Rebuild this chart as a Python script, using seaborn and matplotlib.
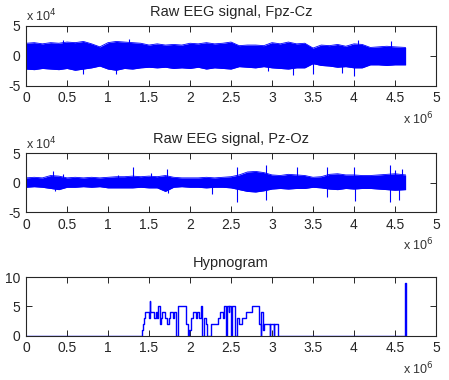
# Raw EEG channels (envelopes) and hypnogram
import matplotlib
matplotlib.use("Agg")
import matplotlib.pyplot as plt
from matplotlib.ticker import FuncFormatter
import numpy as np
import pandas as pd
import seaborn as sns

# sample index in units of 1e6, envelope every 0.1e6 samples
env_x = [0.0, 0.1, 0.2, 0.3, 0.4, 0.5, 0.6, 0.7, 0.8, 0.9,
         1.0, 1.1, 1.2, 1.3, 1.4, 1.5, 1.6, 1.7, 1.8, 1.9,
         2.0, 2.1, 2.2, 2.3, 2.4, 2.5, 2.6, 2.7, 2.8, 2.9,
         3.0, 3.1, 3.2, 3.3, 3.4, 3.5, 3.6, 3.7, 3.8, 3.9,
         4.0, 4.1, 4.2, 4.3, 4.4, 4.5, 4.63]

# Fpz-Cz, units of 1e4
fpz_upper = [2.1, 2.2, 2.0, 2.2, 2.1, 2.3, 2.2, 2.4, 2.0, 1.5,
             2.2, 2.4, 2.3, 2.2, 2.1, 1.8, 2.0, 1.8, 1.9, 1.8,
             2.1, 2.0, 2.2, 2.0, 2.1, 2.3, 1.7, 1.8, 1.8, 1.7,
             2.2, 2.0, 2.3, 2.0, 2.1, 1.3, 1.8, 1.7, 1.9, 1.6,
             2.0, 1.9, 1.4, 1.5, 1.6, 1.5, 1.4]
fpz_lower = [-2.2, -2.3, -2.1, -2.2, -2.3, -2.1, -2.4, -2.2, -2.0, -1.7,
             -2.2, -2.4, -2.1, -2.2, -2.0, -1.9, -2.0, -1.9, -2.1, -2.0,
             -2.1, -1.9, -2.2, -2.0, -2.1, -2.2, -1.8, -1.9, -2.0, -1.8,
             -2.0, -2.1, -2.2, -2.0, -2.0, -1.3, -1.6, -1.7, -1.9, -1.8,
             -2.0, -2.0, -1.5, -1.5, -1.6, -1.5, -1.5]
fpz_spike_x = [0.45, 0.7, 1.1, 1.25, 2.95, 3.25, 3.5, 3.85, 4.0, 4.05, 4.45]
fpz_spike_y = [2.7, -3.1, -3.0, 2.8, -2.6, -3.2, -3.0, -2.8, -3.3, 2.6, 2.4]

# Pz-Oz, units of 1e4
pz_upper = [0.8, 0.9, 0.8, 1.2, 1.1, 0.8, 0.9, 0.8, 0.9, 0.8,
            0.9, 1.0, 1.0, 1.1, 1.0, 1.1, 1.0, 1.2, 0.9, 0.8,
            0.8, 0.8, 0.9, 0.8, 0.9, 1.0, 1.3, 1.8, 1.9, 1.7,
            1.3, 1.2, 1.4, 1.3, 1.2, 0.9, 1.0, 1.4, 1.5, 1.3,
            1.3, 1.2, 1.2, 1.3, 1.4, 1.5, 1.3]
pz_lower = [-0.8, -0.7, -0.8, -1.0, -1.2, -0.8, -0.8, -0.7, -0.8, -0.7,
            -0.9, -0.9, -0.9, -0.9, -0.8, -0.9, -0.9, -1.5, -0.8, -0.7,
            -0.8, -0.8, -0.9, -0.8, -0.8, -0.9, -1.2, -1.5, -1.6, -1.4,
            -1.1, -1.0, -1.1, -1.0, -1.0, -0.8, -0.9, -1.1, -1.2, -1.0,
            -1.1, -1.0, -1.0, -1.1, -1.2, -1.3, -1.2]
pz_spike_x = [0.33, 0.35, 0.45, 1.12, 1.3, 1.52, 1.72, 1.73, 2.27, 2.57, 2.57,
              2.93, 2.93, 3.3, 3.67, 3.67, 4.0, 4.01, 4.44, 4.44, 4.5, 4.55, 4.58]
pz_spike_y = [2.0, -1.4, 1.5, 1.3, 2.6, 1.6, 2.3, -1.7, -1.9, 2.7, -3.3,
              3.0, -3.0, 2.6, 2.6, -2.4, 2.7, -3.2, 3.0, -3.3, 2.2, -3.0, 2.3]

# hypnogram steps (time in 1e6 samples, stage)
hyp_t = [0, 1.42, 1.43, 1.44, 1.45, 1.50, 1.51, 1.515, 1.56, 1.58, 1.60, 1.61,
         1.63, 1.64, 1.66, 1.70, 1.72, 1.74, 1.76, 1.79, 1.81, 1.83, 1.85, 1.95,
         1.97, 1.99, 2.01, 2.04, 2.07, 2.09, 2.11, 2.13, 2.15, 2.17, 2.19, 2.21,
         2.25, 2.34, 2.37, 2.40, 2.42, 2.44, 2.45, 2.47, 2.48, 2.50, 2.51, 2.55,
         2.57, 2.60, 2.64, 2.68, 2.76, 2.84, 2.86, 2.87, 2.89, 2.90, 2.97, 2.98,
         3.02, 3.03, 3.07, 4.625, 4.632, 4.64]
hyp_v = [0, 1, 2, 3, 4, 3, 6, 4, 3, 4, 3, 5,
         2, 3, 4, 3, 2, 3, 4, 3, 4, 0, 5, 2,
         0, 1, 3, 4, 3, 4, 3, 5, 0, 3, 2, 0,
         2, 3, 4, 3, 5, 0, 5, 4, 5, 0, 5, 0,
         3, 2, 3, 4, 5, 2, 0, 4, 1, 2, 0, 2,
         0, 2, 0, 9, 0, 0]

sns.set_style("ticks")
plt.rcParams["font.family"] = ["Liberation Sans", "DejaVu Sans"]
plt.rcParams["font.size"] = 10
BLUE = (0, 0, 1)

fig = plt.figure(figsize=(4.49, 3.8), dpi=100)
ax1 = fig.add_axes([0.058, 0.774, 0.913, 0.158])
ax2 = fig.add_axes([0.058, 0.442, 0.913, 0.155])
ax3 = fig.add_axes([0.058, 0.116, 0.913, 0.155])


def plot_eeg(ax, upper, lower, sx, sy, title):
    df = pd.DataFrame({"x": np.array(env_x) * 1e6,
                       "up": np.array(upper) * 1e4,
                       "lo": np.array(lower) * 1e4})
    sns.lineplot(data=df, x="x", y="up", ax=ax, color=BLUE, lw=0.6)
    sns.lineplot(data=df, x="x", y="lo", ax=ax, color=BLUE, lw=0.6)
    ax.fill_between(df["x"], df["lo"], df["up"], color=BLUE, lw=0)
    ax.vlines(np.array(sx) * 1e6, 0, np.array(sy) * 1e4, color=BLUE, lw=0.8)
    ax.set_ylim(-5e4, 5e4)
    ax.set_yticks([-5e4, 0, 5e4])
    ax.yaxis.set_major_formatter(FuncFormatter(lambda v, p: "%g" % (v / 1e4)))
    ax.text(0.0, 1.02, r"x 10$^4$", transform=ax.transAxes, fontsize=9,
            color="#333333", va="bottom", ha="left")
    ax.set_title(title, fontsize=10.5, pad=7)


def style_x(ax):
    ax.set_xlim(0, 5e6)
    ax.set_xticks(np.arange(0, 5.01e6, 0.5e6))
    ax.xaxis.set_major_formatter(FuncFormatter(lambda v, p: "%g" % (v / 1e6)))
    ax.set_xlabel("")
    ax.set_ylabel("")
    ax.tick_params(direction="in", length=4, width=0.7, top=True, right=True,
                   labelsize=10, pad=4)
    for s in ax.spines.values():
        s.set_linewidth(0.8)
    ax.text(0.995, -0.42, r"x 10$^6$", transform=ax.transAxes, fontsize=9,
            color="#333333", va="top", ha="right")


plot_eeg(ax1, fpz_upper, fpz_lower, fpz_spike_x, fpz_spike_y,
         "Raw EEG signal, Fpz-Cz")
plot_eeg(ax2, pz_upper, pz_lower, pz_spike_x, pz_spike_y,
         "Raw EEG signal, Pz-Oz")

hyp = pd.DataFrame({"t": np.array(hyp_t) * 1e6, "stage": hyp_v})
sns.lineplot(data=hyp, x="t", y="stage", ax=ax3, color=BLUE, lw=1.0,
             drawstyle="steps-post", estimator=None, sort=False)
ax3.set_ylim(0, 10)
ax3.set_yticks([0, 5, 10])
ax3.set_title("Hypnogram", fontsize=10.5, pad=7)

for ax in (ax1, ax2, ax3):
    style_x(ax)

fig.savefig("out.png", dpi=100)
